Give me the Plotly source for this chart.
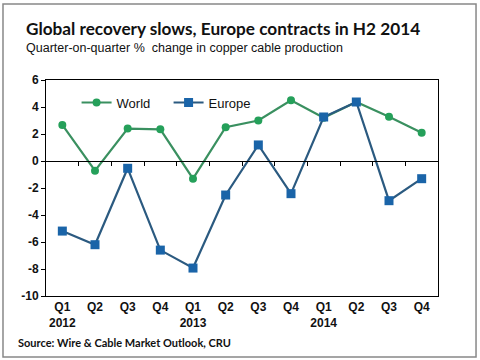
import plotly.graph_objects as go

quarters = ["Q1<br>2012", "Q2", "Q3", "Q4", "Q1<br>2013", "Q2", "Q3", "Q4",
            "Q1<br>2014", "Q2", "Q3", "Q4"]
world = [2.67, -0.72, 2.4, 2.35, -1.31, 2.5, 3.0, 4.5, 3.2, 4.37, 3.28, 2.1]
europe = [-5.19, -6.2, -0.54, -6.6, -7.93, -2.52, 1.19, -2.42, 3.26, 4.37, -2.94, -1.31]
y_ticks = [6, 4, 2, 0, -2, -4, -6, -8, -10]
y_ticklabels = ["6", "4", "2", "0", "-2", "-4", "-6", "-8", "-10"]

xs = list(range(len(quarters)))

fig = go.Figure()
fig.add_trace(go.Scatter(
    x=xs, y=world, name="World", mode="lines+markers",
    line=dict(color="#3a9060", width=2.2),
    marker=dict(symbol="circle", size=8, color="#25a05a"),
))
fig.add_trace(go.Scatter(
    x=xs, y=europe, name="Europe", mode="lines+markers",
    line=dict(color="#2b5a80", width=2.2),
    marker=dict(symbol="square", size=9, color="#1a64a8"),
))
# invisible trace to carry the zero-crossing category axis
fig.add_trace(go.Scatter(x=xs, y=[0] * len(xs), xaxis="x2", mode="none",
                         showlegend=False, hoverinfo="skip"))

tickfont = dict(family="Liberation Sans, Arial", size=12, color="#111", weight="bold")

fig.update_layout(
    width=480, height=360,
    paper_bgcolor="white", plot_bgcolor="white",
    margin=dict(l=46, r=42, t=80, b=64),
    showlegend=True,
    legend=dict(orientation="h", x=0.078, y=0.965, xanchor="left", yanchor="top",
                font=dict(family="Liberation Sans, Arial", size=13, color="#111"),
                bgcolor="rgba(0,0,0,0)", itemwidth=30, tracegroupgap=0,
                entrywidth=47, entrywidthmode="pixels"),
    xaxis=dict(range=[-0.5, 11.5], tickmode="array", tickvals=xs, ticktext=quarters,
               showline=True, linecolor="black", linewidth=1, mirror=True,
               ticks="", showgrid=False, zeroline=False, tickfont=tickfont),
    xaxis2=dict(overlaying="x", matches="x", anchor="free", position=0.625,
                range=[-0.5, 11.5], tickmode="array",
                tickvals=[i + 0.5 for i in xs[:-1]],
                showline=True, linecolor="black", linewidth=1,
                ticks="outside", ticklen=4, tickcolor="black",
                showticklabels=False, showgrid=False, zeroline=False),
    yaxis=dict(range=[-10, 6], tickmode="array", tickvals=y_ticks, ticktext=y_ticklabels,
               showline=True, linecolor="black", linewidth=1, mirror=True,
               ticks="outside", ticklen=4, tickcolor="black",
               showgrid=False, zeroline=False, tickfont=tickfont),
    shapes=[dict(type="rect", xref="paper", yref="paper", x0=-0.1097, x1=1.097,
                 y0=-0.282, y1=1.352, line=dict(color="#888", width=1.5))],
    annotations=[
        dict(text="<b>Global recovery slows, Europe contracts in H2 2014</b>",
             xref="paper", yref="paper", x=-0.057, y=1.24, xanchor="left", yanchor="middle",
             showarrow=False, font=dict(family="Lato, Open Sans", size=17.2, color="#111")),
        dict(text="Quarter-on-quarter %  change in copper cable production",
             xref="paper", yref="paper", x=-0.057, y=1.148, xanchor="left", yanchor="middle",
             showarrow=False, font=dict(family="Liberation Sans, Arial", size=12.5, color="#111")),
        dict(text="<b>Source: Wire & Cable Market Outlook, CRU</b>",
             xref="paper", yref="paper", x=-0.076, y=-0.213, xanchor="left", yanchor="middle",
             showarrow=False, font=dict(family="Lato, Open Sans", size=11, color="#111")),
    ],
)

fig.write_html("out.html", config={"displayModeBar": False},
               post_script="document.body.style.margin='0px';")
